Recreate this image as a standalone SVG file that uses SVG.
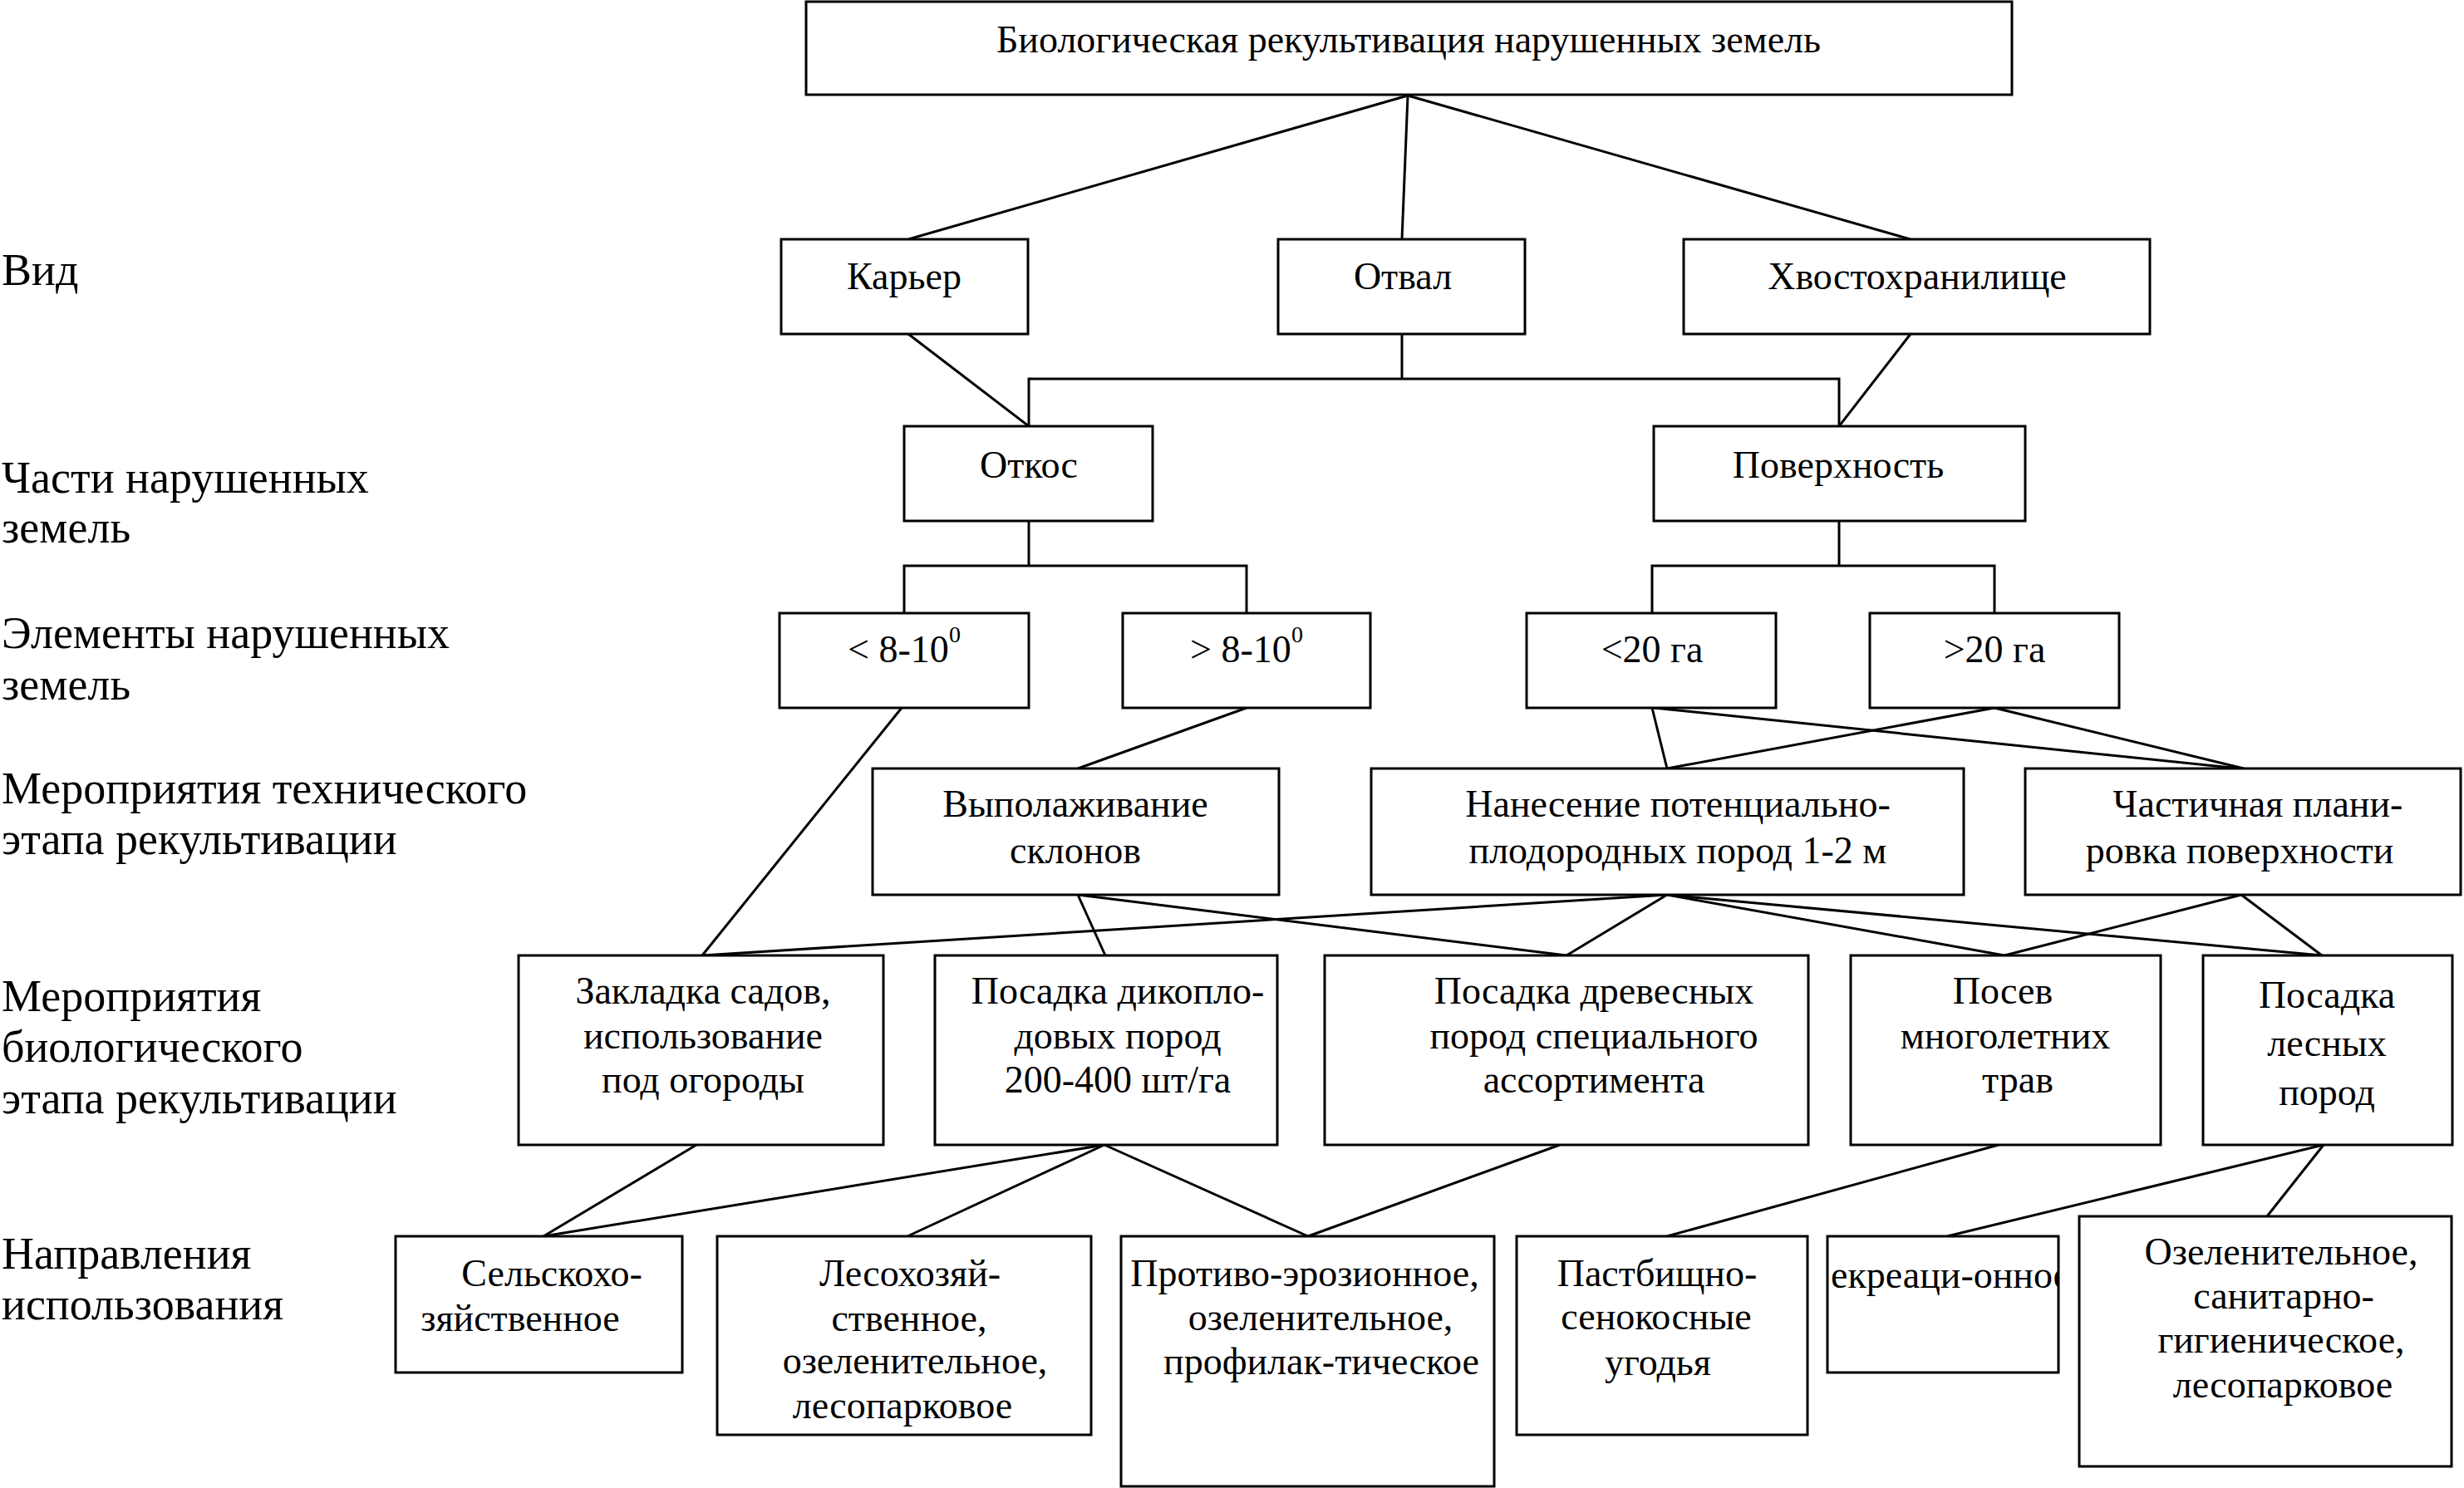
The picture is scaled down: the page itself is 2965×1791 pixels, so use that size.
<svg xmlns="http://www.w3.org/2000/svg" width="2965" height="1791" viewBox="0 0 2965 1791">
<style>
  .box { fill: #fff; stroke: #000; stroke-width: 3; }
  .t { font-family: "Liberation Serif", "Times New Roman", serif; font-size: 46px; fill: #000; text-anchor: middle; }
  .lbl { font-family: "Liberation Serif", "Times New Roman", serif; font-size: 54px; fill: #000; }
  .conn line, .conn polyline { stroke: #000; stroke-width: 3; fill: none; }
</style>
<defs>
  <clipPath id="clipRek"><rect x="2200" y="1488" width="276" height="164"/></clipPath>
</defs>
<rect x="0" y="0" width="2965" height="1791" fill="#fff"/>

<g id="labels">
  <text class="lbl" x="2" y="343">Вид</text>
  <text class="lbl" x="2" y="593">Части нарушенных</text>
  <text class="lbl" x="2" y="653">земель</text>
  <text class="lbl" x="2" y="780">Элементы нарушенных</text>
  <text class="lbl" x="2" y="842">земель</text>
  <text class="lbl" x="2" y="967">Мероприятия технического</text>
  <text class="lbl" x="2" y="1028">этапа рекультивации</text>
  <text class="lbl" x="2" y="1217">Мероприятия</text>
  <text class="lbl" x="2" y="1278">биологического</text>
  <text class="lbl" x="2" y="1340">этапа рекультивации</text>
  <text class="lbl" x="2" y="1527">Направления</text>
  <text class="lbl" x="2" y="1588">использования</text>
</g>

<g class="conn" id="connectors">
  <line x1="1694" y1="115" x2="1093" y2="288"/>
  <line x1="1694" y1="115" x2="1687" y2="288"/>
  <line x1="1694" y1="115" x2="2299" y2="288"/>
  <polyline points="1687,402 1687,456"/>
  <polyline points="1238,513 1238,456 2213,456 2213,513"/>
  <line x1="1093" y1="402" x2="1238" y2="513"/>
  <line x1="2299" y1="402" x2="2213" y2="513"/>
  <polyline points="1238,627 1238,681"/>
  <polyline points="1088,738 1088,681 1500,681 1500,738"/>
  <polyline points="2213,627 2213,681"/>
  <polyline points="1988,738 1988,681 2400,681 2400,738"/>
  <line x1="1085" y1="852" x2="845" y2="1150"/>
  <line x1="1500" y1="852" x2="1297" y2="925"/>
  <line x1="1988" y1="852" x2="2006" y2="925"/>
  <line x1="1990" y1="852" x2="2695" y2="925"/>
  <line x1="2400" y1="852" x2="2006" y2="925"/>
  <line x1="2400" y1="852" x2="2700" y2="925"/>
  <line x1="1297" y1="1077" x2="1330" y2="1150"/>
  <line x1="1297" y1="1077" x2="1885" y2="1150"/>
  <line x1="2006" y1="1077" x2="845" y2="1150"/>
  <line x1="2006" y1="1077" x2="1885" y2="1150"/>
  <line x1="2006" y1="1077" x2="2412" y2="1150"/>
  <line x1="2006" y1="1077" x2="2794" y2="1150"/>
  <line x1="2697" y1="1077" x2="2412" y2="1150"/>
  <line x1="2697" y1="1077" x2="2794" y2="1150"/>
  <line x1="838" y1="1378" x2="654" y2="1488"/>
  <line x1="1329" y1="1378" x2="654" y2="1488"/>
  <line x1="1329" y1="1378" x2="1092" y2="1488"/>
  <line x1="1329" y1="1378" x2="1574" y2="1488"/>
  <line x1="1877" y1="1378" x2="1574" y2="1488"/>
  <line x1="2405" y1="1378" x2="2006" y2="1488"/>
  <line x1="2796" y1="1378" x2="2343" y2="1488"/>
  <line x1="2796" y1="1378" x2="2728" y2="1464"/>
</g>

<g id="n-root"><rect class="box" x="970" y="2" width="1451" height="112"/>
  <text class="t" x="1695" y="63">Биологическая рекультивация нарушенных земель</text></g>

<g id="n-karier"><rect class="box" x="940" y="288" width="297" height="114"/>
  <text class="t" x="1088" y="348">Карьер</text></g>
<g id="n-otval"><rect class="box" x="1538" y="288" width="297" height="114"/>
  <text class="t" x="1688" y="348">Отвал</text></g>
<g id="n-hvost"><rect class="box" x="2026" y="288" width="561" height="114"/>
  <text class="t" x="2307" y="348">Хвостохранилище</text></g>

<g id="n-otkos"><rect class="box" x="1088" y="513" width="299" height="114"/>
  <text class="t" x="1238" y="575">Откос</text></g>
<g id="n-poverh"><rect class="box" x="1990" y="513" width="447" height="114"/>
  <text class="t" x="2212" y="575">Поверхность</text></g>

<g id="n-lt8"><rect class="box" x="938" y="738" width="300" height="114"/>
  <text class="t" x="1088" y="797">&lt; 8-10<tspan font-size="28" dy="-24">0</tspan></text></g>
<g id="n-gt8"><rect class="box" x="1351" y="738" width="298" height="114"/>
  <text class="t" x="1500" y="797">&gt; 8-10<tspan font-size="28" dy="-24">0</tspan></text></g>
<g id="n-lt20"><rect class="box" x="1837" y="738" width="300" height="114"/>
  <text class="t" x="1988" y="797">&lt;20 га</text></g>
<g id="n-gt20"><rect class="box" x="2250" y="738" width="300" height="114"/>
  <text class="t" x="2400" y="797">&gt;20 га</text></g>

<g id="n-vypol"><rect class="box" x="1050" y="925" width="489" height="152"/>
  <text class="t" x="1294" y="983">Выполаживание</text>
  <text class="t" x="1294" y="1039">склонов</text></g>
<g id="n-nanes"><rect class="box" x="1650" y="925" width="713" height="152"/>
  <text class="t" x="2019" y="983">Нанесение потенциально-</text>
  <text class="t" x="2019" y="1039">плодородных пород 1-2 м</text></g>
<g id="n-chast"><rect class="box" x="2437" y="925" width="524" height="152"/>
  <text class="t" x="2717" y="983">Частичная плани-</text>
  <text class="t" x="2695" y="1039">ровка поверхности</text></g>

<g id="n-zaklad"><rect class="box" x="624" y="1150" width="439" height="228"/>
  <text class="t" x="846" y="1208">Закладка садов,</text>
  <text class="t" x="846" y="1262">использование</text>
  <text class="t" x="846" y="1315">под огороды</text></g>
<g id="n-diko"><rect class="box" x="1125" y="1150" width="412" height="228"/>
  <text class="t" x="1345" y="1208">Посадка дикопло-</text>
  <text class="t" x="1345" y="1262">довых пород</text>
  <text class="t" x="1345" y="1315">200-400 шт/га</text></g>
<g id="n-drev"><rect class="box" x="1594" y="1150" width="582" height="228"/>
  <text class="t" x="1918" y="1208">Посадка древесных</text>
  <text class="t" x="1918" y="1262">пород специального</text>
  <text class="t" x="1918" y="1315">ассортимента</text></g>
<g id="n-posev"><rect class="box" x="2227" y="1150" width="373" height="228"/>
  <text class="t" x="2410" y="1208">Посев</text>
  <text class="t" x="2413" y="1262">многолетних</text>
  <text class="t" x="2428" y="1315">трав</text></g>
<g id="n-lesn"><rect class="box" x="2651" y="1150" width="300" height="228"/>
  <text class="t" x="2800" y="1213" font-size="49">Посадка</text>
  <text class="t" x="2800" y="1271" font-size="49">лесных</text>
  <text class="t" x="2800" y="1330" font-size="49">пород</text></g>

<g id="n-selsk"><rect class="box" x="476" y="1488" width="345" height="164"/>
  <text class="t" x="664" y="1548">Сельскохо-</text>
  <text class="t" x="626" y="1602">зяйственное</text></g>
<g id="n-lesoh"><rect class="box" x="863" y="1488" width="450" height="239"/>
  <text class="t" x="1095" y="1548">Лесохозяй-</text>
  <text class="t" x="1094" y="1602">ственное,</text>
  <text class="t" x="1101" y="1653">озеленительное,</text>
  <text class="t" x="1086" y="1707">лесопарковое</text></g>
<g id="n-protiv"><rect class="box" x="1349" y="1488" width="449" height="301"/>
  <text class="t" x="1570" y="1548">Противо-эрозионное,</text>
  <text class="t" x="1589" y="1601">озеленительное,</text>
  <text class="t" x="1590" y="1654">профилак-тическое</text></g>
<g id="n-pastb"><rect class="box" x="1825" y="1488" width="350" height="239"/>
  <text class="t" x="1994" y="1548">Пастбищно-</text>
  <text class="t" x="1993" y="1600">сенокосные</text>
  <text class="t" x="1995" y="1655">угодья</text></g>
<g id="n-rekr"><rect class="box" x="2199" y="1488" width="278" height="164"/>
  <text class="t" x="2203" y="1550" style="text-anchor:start" clip-path="url(#clipRek)">екреаци-онное</text></g>
<g id="n-ozel"><rect class="box" x="2502" y="1464" width="448" height="301"/>
  <text class="t" x="2745" y="1522">Озеленительное,</text>
  <text class="t" x="2748" y="1575">санитарно-</text>
  <text class="t" x="2745" y="1628">гигиеническое,</text>
  <text class="t" x="2747" y="1682">лесопарковое</text></g>
</svg>
